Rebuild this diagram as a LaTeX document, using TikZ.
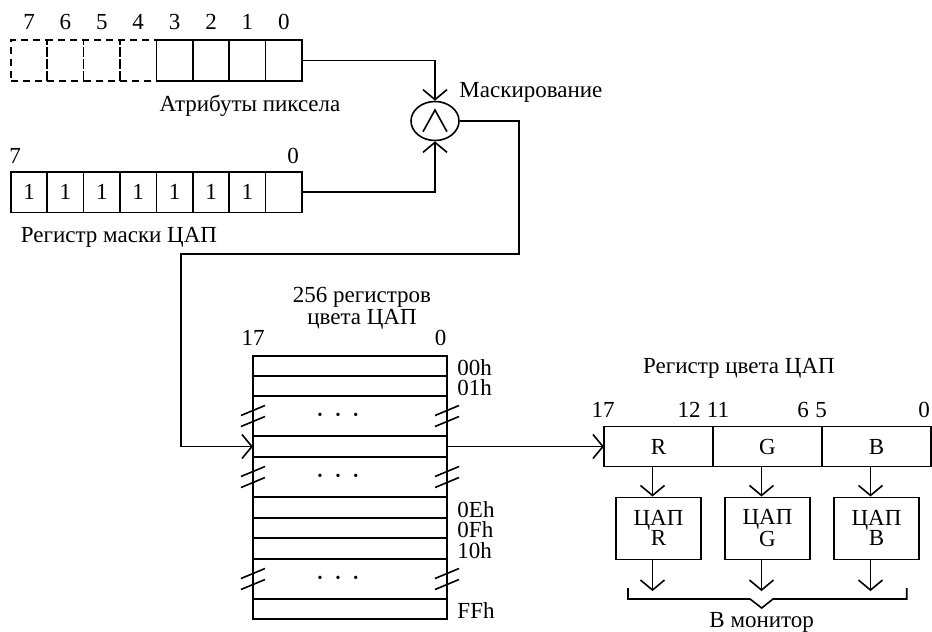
\documentclass[tikz,border=0pt]{standalone}
\usepackage{fontspec}
\setmainfont{Liberation Serif}
\usetikzlibrary{positioning, arrows.meta, shapes.geometric}

\begin{document}
\begin{tikzpicture}[x=0.5pt,y=-0.5pt,line width=0.8pt,
  >={Straight Barb[length=5pt,width=12pt]},
  every node/.style={font=\fontsize{11.5}{10}\selectfont},
  bitcell/.style={draw,minimum width=18.2pt,minimum height=20.3pt,inner sep=0pt,outer sep=0pt},
  ghostcell/.style={bitcell,dash pattern=on 3.5pt off 2.5pt},
  tabrow/.style={draw,minimum width=97pt,inner sep=0pt,outer sep=0pt},
  colcell/.style={draw,minimum width=54.5pt,minimum height=20pt,inner sep=0pt,outer sep=0pt},
  dacbox/.style={draw,minimum width=42.5pt,minimum height=31pt,align=center,inner sep=0pt},
  brk/.pic={\draw (-12,-0.5) -- (12,-10.5) (-12,10.5) -- (12,0.5);}]
  \useasboundingbox (0,0) rectangle (932,632);
  % pixel attributes
  \foreach \nb in {7,...,4}
    \node[ghostcell] (attr\nb) at ({29+36.4*(7-\nb)},60.5) {};
  \foreach \nb in {3,...,0}
    \node[bitcell] (attr\nb) at ({29+36.4*(7-\nb)},60.5) {};
  \foreach \nb in {7,...,0}
    \node[above=1.5pt of attr\nb] (abit\nb) {\nb};
  \node (attrlbl) at (250,106) {Атрибуты пиксела};
  % mask register
  \foreach \nb in {7,...,1}
    \node[bitcell] (mask\nb) at ({29+36.4*(7-\nb)},192) {1};
  \node[bitcell] (mask0) at (283.8,192) {};
  \node (mbit7) at (15,156) {7};
  \node (mbit0) at (293,156) {0};
  \node (masklbl) at (119,237) {Регистр маски ЦАП};
  % masking
  \node[draw,ellipse,minimum width=24pt,minimum height=19.5pt,inner sep=0pt] (andop) at (435,121) {};
  \draw (andop.center) ++(-12,10.7) -- ++(12,-21.7) -- ++(12,21.7);
  \node[anchor=west] (andlbl) at (452,92) {Маскирование};
  \draw[->] (attr0.east) -| (andop.north);
  \draw[->] (mask0.east) -| (andop.south);
  % 256 colour registers
  \foreach \rw/\ya/\yb in {r00/356/376, r01/376/396, gapA/396/436, rsel/436/457,
      gapB/457/497, r0E/497/518, r0F/518/538, r10/538/559, gapC/559/599, rFF/599/619}
    \node[tabrow,minimum height={(\yb-\ya)*0.5pt}] (\rw) at (350,{(\ya+\yb)/2}) {};
  \foreach \rw/\txt in {r00/00h, r01/01h, r0E/0Eh, r0F/0Fh, r10/10h, rFF/FFh}
    \node[right=1.5pt of \rw.east,yshift=-1pt] (lbl\rw) {\txt};
  \foreach \g in {gapA,gapB,gapC}{
    \node (dots\g) at ([xshift=-6pt]\g.center)
      {\fontsize{7}{7}\selectfont\textbullet\hspace{6.5pt}\textbullet\hspace{6.5pt}\textbullet};
    \pic at (\g.west) {brk};
    \pic at (\g.east) {brk};
  }
  \node[align=center] (tabtitle) at (362,308) {256 регистров\\цвета ЦАП};
  \node (tbit17) at (253,338) {17};
  \node (tbit0) at (440.5,338) {0};
  \coordinate (bendA) at (519,254);
  \coordinate (bendB) at (181,254);
  \draw[->] (andop.east) -| (bendA) -- (bendB) |- (rsel.west);
  % colour register
  \node[colcell] (regR) at (658.5,446.5) {R};
  \node[colcell,right=0pt of regR] (regG) {G};
  \node[colcell,right=0pt of regG] (regB) {B};
  \node (reglbl) at (739,368) {Регистр цвета ЦАП};
  \foreach \nb/\xx in {17/603, 12/689, 11/718, 6/803, 5/821, 0/924}
    \node (cbit\nb) at (\xx,410) {\nb};
  \draw[->] (rsel.east) -- (regR.west);
  % DACs
  \node[dacbox,below=15pt of regR] (dacR) {ЦАП\\R};
  \node[dacbox,below=15pt of regG] (dacG) {ЦАП\\G};
  \node[dacbox,below=15pt of regB] (dacB) {ЦАП\\B};
  \foreach \c in {R,G,B}{
    \draw[->] ([xshift=-3pt]reg\c.south) -- ([xshift=-3pt]dac\c.north);
    \coordinate (out\c) at ([xshift=-3pt,yshift=-15.5pt]dac\c.south);
    \draw[->] ([xshift=-3pt]dac\c.south) -- (out\c);
  }
  \draw (628,588) -- (628,599) -- (750,599) -- (761.7,608) -- (773,599) -- (906.7,599) -- (906.7,588);
  \node (monitor) at (761.7,622.7) {В монитор};
\end{tikzpicture}
\end{document}
